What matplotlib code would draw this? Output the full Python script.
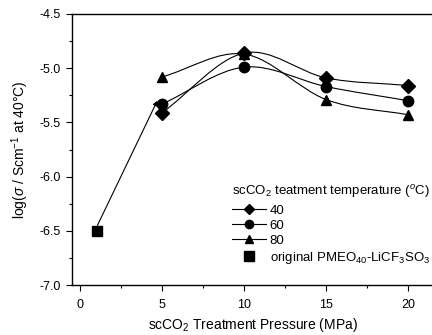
import numpy as np
import matplotlib.pyplot as plt
from matplotlib.path import Path
from matplotlib.patches import PathPatch
from matplotlib.ticker import MultipleLocator

plt.rcParams['font.family'] = ['Liberation Sans', 'DejaVu Sans']
plt.rcParams['mathtext.fontset'] = 'custom'
plt.rcParams['mathtext.rm'] = 'Liberation Sans'
plt.rcParams['mathtext.it'] = 'Liberation Sans:italic'

# conductivity after scCO2 treatment, log(sigma / S cm^-1) at 40 C
pressure = [5, 10, 15, 20]
log_sigma_40 = [-5.41, -4.86, -5.09, -5.16]
log_sigma_60 = [-5.33, -4.99, -5.17, -5.30]
log_sigma_80 = [-5.08, -4.87, -5.29, -5.43]
orig_pressure = [1]
orig_log_sigma = [-6.50]
series_labels = ['40', '60', '80']
orig_label = 'original PMEO$_{40}$-LiCF$_3$SO$_3$'


def smooth_path(x, y):
    # Catmull-Rom tangents turned into cubic Bezier segments
    x = np.asarray(x, float)
    y = np.asarray(y, float)
    n = len(x)
    slope = np.gradient(y, x)
    verts = [(x[0], y[0])]
    codes = [Path.MOVETO]
    for i in range(n - 1):
        h = (x[i + 1] - x[i]) / 3.0
        verts += [(x[i] + h, y[i] + h * slope[i]),
                  (x[i + 1] - h, y[i + 1] - h * slope[i + 1]),
                  (x[i + 1], y[i + 1])]
        codes += [Path.CURVE4] * 3
    return Path(verts, codes)


fig = plt.figure(figsize=(4.32, 3.35), dpi=100)
ax = fig.add_axes([72 / 432, 50 / 335, 361 / 432, 271 / 335])

markers = ['D', 'o', '^']
sizes = [7, 7.5, 7.5]
zs = [5, 4, 3]
for ys, m, ms, z, lab in zip([log_sigma_40, log_sigma_60, log_sigma_80],
                             markers, sizes, zs, series_labels):
    ax.add_patch(PathPatch(smooth_path(pressure, ys), fill=False,
                           lw=0.8, ec='black', zorder=2))
    ax.plot(pressure, ys, ls='none', marker=m, ms=ms, color='black', zorder=z)
    ax.plot([], [], '-', marker=m, ms=ms - 1.5, color='black', lw=0.8, label=lab)

ax.plot(orig_pressure, orig_log_sigma, ls='none', marker='s', ms=7,
        color='black', zorder=3, label=orig_label)
ax.annotate('', xy=(pressure[0] - 0.3, log_sigma_60[0] + 0.03),
            xytext=(orig_pressure[0] + 0.05, orig_log_sigma[0] + 0.05),
            arrowprops=dict(arrowstyle='-|>', lw=0.8, color='black',
                            mutation_scale=7, shrinkA=0, shrinkB=0))

ax.set_xlim(-0.5, 21.5)
ax.set_ylim(-7.0, -4.5)
ax.xaxis.set_major_locator(MultipleLocator(5))
ax.xaxis.set_minor_locator(MultipleLocator(2.5))
ax.yaxis.set_minor_locator(MultipleLocator(0.25))
yt = np.arange(-7.0, -4.49, 0.5)
ax.set_yticks(yt)
ax.set_yticklabels(['%.1f' % v for v in yt])
ax.tick_params(which='both', direction='out', labelsize=9, width=0.8)
ax.tick_params(which='major', length=4, pad=4)
ax.tick_params(axis='x', pad=6)
ax.tick_params(which='minor', length=2.5)
for s in ax.spines.values():
    s.set_linewidth(1.0)

ax.set_xlabel('scCO$_2$ Treatment Pressure (MPa)', fontsize=10, labelpad=4)
ax.set_ylabel(r'log($\sigma$ / Scm$^{-1}$ at 40$\degree$C)', fontsize=10, labelpad=6)

leg = ax.legend(loc='upper left', bbox_to_anchor=(0.425, 0.40), frameon=False,
                fontsize=9.5, title='scCO$_2$ teatment temperature ($^o$C)',
                title_fontsize=9.5, handlelength=2.6, handletextpad=0.25,
                labelspacing=0.22, borderpad=0)
leg._legend_box.align = 'left'
leg._legend_box.sep = 3

plt.savefig('out.png', dpi=100)
